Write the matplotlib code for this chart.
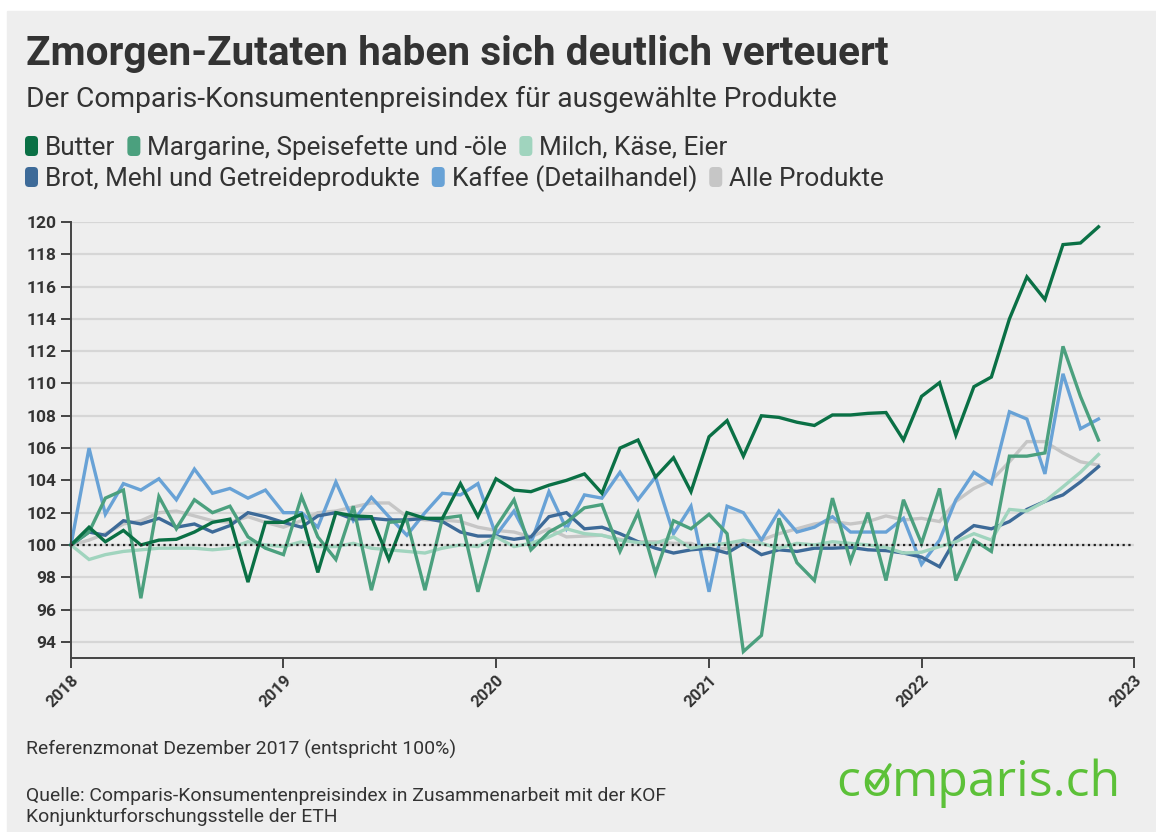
import matplotlib
matplotlib.use('Agg')
import matplotlib.pyplot as plt
import matplotlib.dates as mdates
from matplotlib.patches import FancyBboxPatch, Rectangle
from matplotlib.lines import Line2D
import pandas as pd

# monthly index values, reference month Dec 2017 = 100
months = pd.date_range('2018-01-01', periods=59, freq='MS')

butter = [100.0, 101.1, 100.2, 100.9, 100.0, 100.3, 100.35, 100.8, 101.4, 101.6,
          97.7, 101.4, 101.4, 101.9, 98.3, 102.0, 101.8, 101.75, 99.1, 102.0,
          101.65, 101.65, 103.8, 101.75, 104.1, 103.4, 103.3, 103.7, 104.0, 104.4,
          103.2, 106.0, 106.5, 104.2, 105.4, 103.3, 106.7, 107.7, 105.5, 108.0,
          107.9, 107.6, 107.4, 108.05, 108.05, 108.15, 108.2, 106.5, 109.2, 110.05,
          106.8, 109.8, 110.4, 114.0, 116.6, 115.2, 118.6, 118.7, 119.7]
margarine = [100.0, 100.8, 102.9, 103.4, 96.7, 103.0, 101.0, 102.8, 102.0, 102.4,
             100.5, 99.8, 99.4, 103.0, 100.5, 99.1, 102.4, 97.2, 101.4, 101.5,
             97.2, 101.65, 101.8, 97.1, 101.1, 102.8, 99.7, 100.8, 101.4, 102.3,
             102.5, 99.6, 102.0, 98.25, 101.5, 101.0, 101.9, 100.7, 93.4, 94.4,
             101.65, 98.9, 97.8, 102.9, 99.0, 102.0, 97.8, 102.8, 100.1, 103.5,
             97.8, 100.3, 99.6, 105.5, 105.5, 105.7, 112.3, 109.2, 106.5]
milch = [100.0, 99.1, 99.4, 99.6, 99.7, 99.8, 99.8, 99.8, 99.7, 99.8,
         100.2, 100.0, 99.9, 100.2, 99.9, 99.9, 100.1, 99.8, 99.7, 99.6,
         99.5, 99.8, 100.0, 99.9, 100.5, 99.9, 100.1, 100.5, 101.0, 100.7,
         100.6, 100.3, 100.15, 100.1, 100.5, 99.8, 100.0, 100.1, 100.3, 100.1,
         99.8, 100.1, 100.0, 100.2, 100.1, 100.0, 99.85, 99.5, 99.55, 99.9,
         100.2, 100.7, 100.3, 102.2, 102.1, 102.7, 103.6, 104.5, 105.6]
brot = [100.0, 100.8, 100.6, 101.5, 101.3, 101.65, 101.1, 101.3, 100.8, 101.2,
        102.0, 101.75, 101.4, 101.1, 101.8, 102.0, 101.6, 101.65, 101.55, 101.55,
        101.65, 101.45, 100.8, 100.55, 100.55, 100.35, 100.5, 101.75, 102.0, 101.0,
        101.1, 100.7, 100.2, 99.8, 99.5, 99.7, 99.8, 99.5, 100.1, 99.4,
        99.7, 99.6, 99.8, 99.8, 99.85, 99.7, 99.65, 99.5, 99.25, 98.65,
        100.4, 101.2, 101.0, 101.45, 102.2, 102.7, 103.1, 103.9, 104.85]
kaffee = [100.0, 106.0, 101.9, 103.8, 103.4, 104.1, 102.8, 104.7, 103.2, 103.5,
          102.9, 103.4, 102.0, 102.0, 101.1, 103.9, 101.5, 102.95, 101.75, 100.6,
          102.0, 103.2, 103.1, 103.8, 100.6, 102.1, 100.1, 103.3, 101.0, 103.1,
          102.9, 104.5, 102.8, 104.2, 100.7, 102.4, 97.1, 102.4, 102.0, 100.3,
          102.1, 100.8, 101.1, 101.75, 100.8, 100.8, 100.8, 101.65, 98.8, 100.3,
          102.8, 104.5, 103.8, 108.25, 107.8, 104.4, 110.6, 107.2, 107.8]
alle = [100.0, 100.3, 100.7, 101.3, 101.5, 102.0, 102.1, 101.8, 101.5, 101.4,
        101.75, 101.4, 101.1, 101.5, 102.0, 102.1, 102.35, 102.6, 102.6, 101.75,
        101.55, 101.55, 101.45, 101.1, 100.9, 100.8, 100.5, 101.0, 100.5, 100.55,
        100.6, 100.35, 100.2, 100.2, 100.1, 100.1, 99.7, 99.8, 100.2, 100.3,
        100.7, 101.0, 101.3, 101.45, 101.3, 101.45, 101.8, 101.55, 101.65, 101.45,
        102.7, 103.5, 104.0, 105.15, 106.4, 106.4, 105.7, 105.15, 104.95]

labels = ['Butter', 'Margarine, Speisefette und -öle', 'Milch, Käse, Eier',
          'Brot, Mehl und Getreideprodukte', 'Kaffee (Detailhandel)', 'Alle Produkte']
series = [butter, margarine, milch, brot, kaffee, alle]
colors = ['#0a7045', '#4ba07e', '#a0d4be', '#3d6a98', '#68a2d6', '#c6c6c6']

W, H = 1156, 832
plt.rcParams['font.family'] = ['Roboto', 'DejaVu Sans']
fig = plt.figure(figsize=(W / 100, H / 100), dpi=100)
fig.patch.set_facecolor('white')
fig.patches.append(Rectangle((7 / W, 0), (W - 7) / W, (H - 11) / H,
                             transform=fig.transFigure, color='#eeeeee', zorder=-10))
renderer = fig.canvas.get_renderer()
dark = '#333333'


def put(x, y, s, width=None, size=12, **kw):
    # x, y in image pixels (from top), y is the baseline
    t = fig.text(x / W, 1 - y / H, s, fontsize=size, va='baseline', color=kw.pop('color', dark), **kw)
    if width:
        w = t.get_window_extent(renderer).width
        t.set_fontsize(size * width / w)
    return t


put(26, 65, 'Zmorgen-Zutaten haben sich deutlich verteuert', width=862, size=29, fontweight='bold')
put(26, 107, 'Der Comparis-Konsumentenpreisindex für ausgewählte Produkte', width=812, size=19)

# legend, two rows
probe = fig.text(0, 0, labels[3], fontsize=17)
leg_size = 17 * 377 / probe.get_window_extent(renderer).width
probe.remove()
rows = [(labels[:3], colors[:3], 155), (labels[3:], colors[3:], 186)]
for names, cols, base in rows:
    x = 25
    for name, col in zip(names, cols):
        box = FancyBboxPatch((x, H - base - 1), 13, 20, boxstyle='round,pad=0,rounding_size=4',
                             transform=None, facecolor=col, edgecolor='none')
        fig.patches.append(box)
        t = put(x + 20, base, name, size=leg_size)
        x = t.get_window_extent(renderer).x1 + 12

ax = fig.add_axes([71 / W, 1 - 658 / H, (1134 - 71) / W, (658 - 222) / H])
ax.set_facecolor('none')
for name, vals, col in reversed(list(zip(labels, series, colors))):
    ax.plot(months, vals, color=col, lw=2.4, solid_joinstyle='miter', clip_on=False)
ax.axhline(100, color='#222222', lw=1.6, ls=(0, (1, 1.6)), zorder=10)

ax.set_xlim(pd.Timestamp('2018-01-01'), pd.Timestamp('2023-01-01'))
ax.set_ylim(93, 120)
ax.set_yticks(range(94, 121, 2))
ax.xaxis.set_major_locator(mdates.YearLocator())
ax.xaxis.set_major_formatter(mdates.DateFormatter('%Y'))
ax.yaxis.grid(True, color='#d6d6d6', lw=1.6)
ax.set_axisbelow(True)
for s in ['top', 'right']:
    ax.spines[s].set_visible(False)
for s in ['left', 'bottom']:
    ax.spines[s].set_color('#444444')
    ax.spines[s].set_linewidth(1.4)
ax.tick_params(axis='both', colors='#444444', width=1.4, length=7, labelsize=12.5,
               labelcolor=dark)
for lab in ax.get_yticklabels():
    lab.set_fontweight('bold')
for lab in ax.get_xticklabels():
    lab.set_fontweight('bold')
    lab.set_fontsize(12)
    lab.set_rotation(45)
    lab.set_ha('right')
    lab.set_va('top')
    lab.set_rotation_mode('anchor')

# footer
src = put(26, 801, 'Quelle: Comparis-Konsumentenpreisindex in Zusammenarbeit mit der KOF', width=637, size=12)
fs = src.get_fontsize()
put(26, 755, 'Referenzmonat Dezember 2017 (entspricht 100%)', size=fs)
put(26, 822, 'Konjunkturforschungsstelle der ETH', size=fs)

# logo
green = '#5cc138'
lsize = 36
c = put(836, 796, 'c', size=lsize, color=green, family='Open Sans')
x0 = c.get_window_extent(renderer).x1 + 1
o = fig.text(x0 / W, 1 - 796 / H, 'o', fontsize=lsize, va='baseline', color=green, family='Open Sans')
ob = o.get_window_extent(renderer)
rest = fig.text((ob.x1 + 1) / W, 1 - 796 / H, 'mparis.ch', fontsize=lsize, va='baseline',
                color=green, family='Open Sans')
cy = H - 782
cx = (ob.x0 + ob.x1) / 2
fig.lines.append(Line2D([cx - 7, cx - 1, cx + 14], [cy + 1, cy - 6, cy + 17], transform=None,
                        color=green, lw=2.6, solid_capstyle='round', solid_joinstyle='round'))

fig.savefig('out.png', dpi=100)
